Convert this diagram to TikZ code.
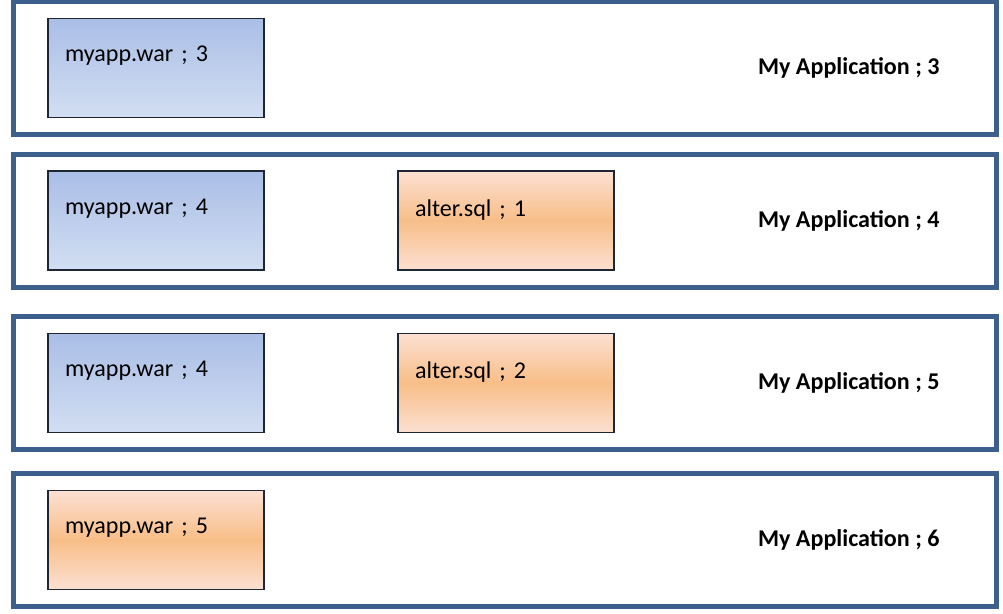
\documentclass[tikz,border=0pt]{standalone}
\usepackage{fontspec}
\setsansfont{Carlito}
\frenchspacing
\usetikzlibrary{positioning}
\definecolor{bandblue}{RGB}{60,95,140}
\definecolor{boxline}{RGB}{30,38,52}
\definecolor{wardark}{RGB}{170,190,230}
\definecolor{warlight}{RGB}{210,222,242}
\definecolor{sqlpeach}{RGB}{252,224,210}
\definecolor{sqlorange}{RGB}{248,190,136}

\begin{document}
\begin{tikzpicture}[
node distance = 0mm,
every node/.style = {
	font = \sffamily\fontsize{13.7}{16}\selectfont,
	outer sep = 0
},
band/.style = {
	draw = bandblue,
	line width = 0.1cm,
	fill = white,
	minimum width = 19.66cm,
	minimum height = 2.66cm
},
artifact/.style = {
	draw = boxline,
	line width = 0.03cm,
	minimum width = 4.32cm,
	text width = 3.64cm,
	align = left,
	inner xsep = 0.34cm,
	inner ysep = 0,
	text height = 0.86cm,
	text depth = 1.12cm
},
war/.style = {
	artifact,
	top color = wardark,
	bottom color = warlight
},
changed/.style = {
	artifact,
	top color = sqlpeach,
	bottom color = sqlpeach,
	middle color = sqlorange
},
appname/.style = {
	font = \bfseries\sffamily\fontsize{13.7}{16}\selectfont,
	inner sep = 0
}
]

\useasboundingbox (0,0) rectangle (20.06,-12.26);

\node (release1) [band] at (10.1,-1.36) {};
\node (release2) [band, below = 0.39cm of release1] {};
\node (release3) [band, below = 0.59cm of release2] {};
\node (release4) [band, below = 0.48cm of release3] {};

\node (release1war) [war, right = 0.69cm of release1.west] {myapp.war ; 3};
\node (release2war) [war, right = 0.69cm of release2.west] {myapp.war ; 4};
\node (release3war) [war, right = 0.69cm of release3.west] {myapp.war ; 4};
\node (release4war) [changed, right = 0.69cm of release4.west] {myapp.war ; 5};

\node (release2sql) [changed, text height = 0.9cm, text depth = 1.08cm, right = 2.68cm of release2war] {alter.sql ; 1};
\node (release3sql) [changed, text height = 0.9cm, text depth = 1.08cm, right = 2.68cm of release3war] {alter.sql ; 2};

\node (release1name) [appname, left = 1.14cm of release1.east] {My Application ; 3};
\node (release2name) [appname, left = 1.14cm of release2.east] {My Application ; 4};
\node (release3name) [appname, left = 1.14cm of release3.east] {My Application ; 5};
\node (release4name) [appname, left = 1.14cm of release4.east] {My Application ; 6};

\end{tikzpicture}
\end{document}
